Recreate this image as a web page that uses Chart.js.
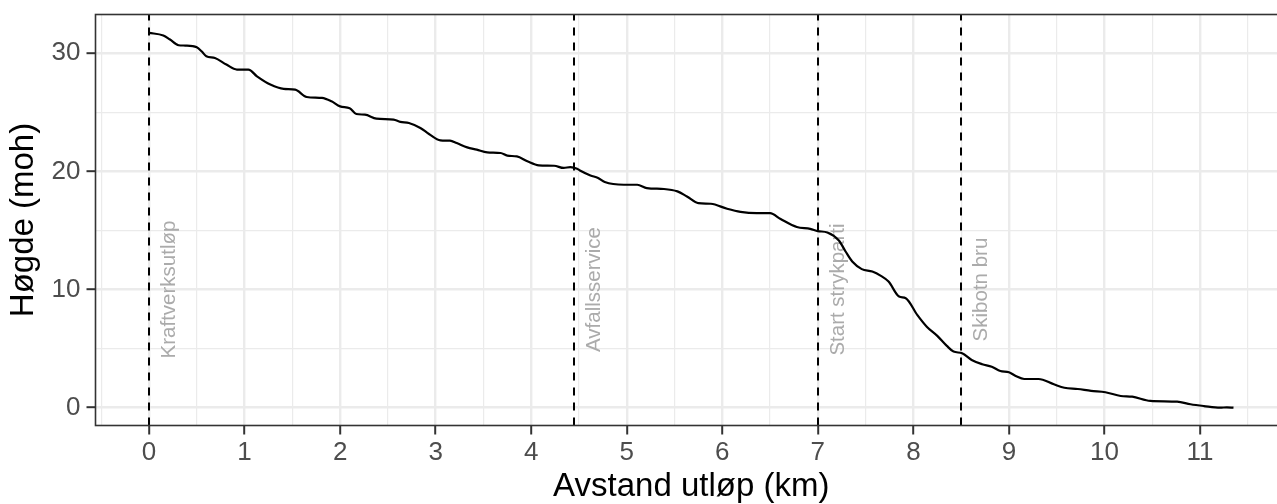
<!DOCTYPE html>
<html>
<head>
<meta charset="utf-8">
<script src="https://cdn.jsdelivr.net/npm/chart.js@4"></script>
<style>
  html, body { margin: 0; padding: 0; background: #fff; overflow: hidden; }
</style>
</head>
<body>
<canvas id="profile" width="1300" height="504"></canvas>
<script>
// River profile: distance from outlet (km) and height above sea (moh)
const distKm = [0, 0.15, 0.22, 0.31, 0.38, 0.5, 0.55, 0.6, 0.69, 0.81, 0.92, 1.04, 1.13, 1.27, 1.41, 1.53, 1.65, 1.81, 1.91, 2.0,
  2.1, 2.17, 2.26, 2.38, 2.56, 2.63, 2.72, 2.84, 2.93, 3.05, 3.15, 3.22, 3.33, 3.43, 3.54, 3.68, 3.75, 3.85, 3.96, 4.08,
  4.24, 4.34, 4.41, 4.48, 4.51, 4.62, 4.7, 4.77, 4.97, 5.11, 5.21, 5.39, 5.53, 5.63, 5.75, 5.88, 6.05, 6.19, 6.36, 6.5,
  6.61, 6.78, 6.92, 7.0, 7.1, 7.22, 7.29, 7.36, 7.46, 7.57, 7.66, 7.74, 7.85, 7.92, 8.04, 8.14, 8.25, 8.35, 8.42, 8.51,
  8.61, 8.72, 8.82, 8.91, 9.0, 9.07, 9.16, 9.31, 9.47, 9.58, 9.72, 9.86, 10.01, 10.17, 10.29, 10.48, 10.76, 10.9, 11.04, 11.21,
  11.28, 11.35];
const heightM = [31.73, 31.5, 31.16, 30.68, 30.65, 30.5, 30.17, 29.75, 29.6, 29.04, 28.62, 28.62, 28.05, 27.35, 26.98, 26.92, 26.3, 26.22, 25.93, 25.5,
  25.35, 24.86, 24.8, 24.47, 24.38, 24.19, 24.1, 23.68, 23.17, 22.63, 22.6, 22.4, 22.03, 21.84, 21.61, 21.56, 21.33, 21.27, 20.85, 20.51,
  20.48, 20.29, 20.37, 20.23, 20.08, 19.66, 19.44, 19.1, 18.87, 18.87, 18.59, 18.51, 18.31, 17.88, 17.32, 17.26, 16.84, 16.58, 16.47, 16.47,
  15.97, 15.29, 15.14, 14.95, 14.83, 14.15, 13.22, 12.37, 11.73, 11.53, 11.16, 10.68, 9.41, 9.27, 7.86, 6.86, 6.08, 5.23, 4.75, 4.61,
  4.04, 3.68, 3.47, 3.11, 3.0, 2.69, 2.43, 2.43, 1.98, 1.69, 1.58, 1.42, 1.31, 0.99, 0.93, 0.57, 0.51, 0.29, 0.14, 0.0,
  0.03, 0.0];

// Landmarks (dashed lines)
const markerKm = [0, 4.45, 7.0, 8.5];
const markerNames = ['Kraftverksutløp', 'Avfallsservice', 'Start strykparti', 'Skibotn bru'];
const markerLabelHeight = 10;

// Axis ticks
const xTicks = [0, 1, 2, 3, 4, 5, 6, 7, 8, 9, 10, 11];
const yTicks = [0, 10, 20, 30];

const FONT = "'Liberation Sans', Arial, sans-serif";
const GRID = '#EBEBEB';
const DARK = '#333333';

// major ticks plus minor breaks halfway between, kept inside the scale range
const withMinor = (major, min, max) => {
  const step = major[1] - major[0];
  const all = [major[0] - step / 2];
  major.forEach(v => { all.push(v); all.push(v + step / 2); });
  return all.filter(v => v >= min && v <= max);
};
const isMajor = (list, v) => list.includes(v);

const landmarks = {
  id: 'landmarks',
  beforeDatasetsDraw(chart) {
    const { ctx, chartArea, scales: { x, y } } = chart;
    ctx.save();
    ctx.beginPath();
    ctx.rect(chartArea.left, chartArea.top, chartArea.right - chartArea.left, chartArea.bottom - chartArea.top);
    ctx.clip();
    ctx.strokeStyle = '#000';
    ctx.lineWidth = 2;
    ctx.setLineDash([8, 7]);
    markerKm.forEach(km => {
      const px = Math.round(x.getPixelForValue(km));
      ctx.beginPath();
      ctx.moveTo(px, chartArea.bottom);
      ctx.lineTo(px, chartArea.top);
      ctx.stroke();
    });
    ctx.setLineDash([]);
    ctx.fillStyle = '#ABABAB';
    ctx.font = '20.5px ' + FONT;
    ctx.textAlign = 'center';
    ctx.textBaseline = 'middle';
    markerKm.forEach((km, i) => {
      ctx.save();
      ctx.translate(x.getPixelForValue(km + 0.215), y.getPixelForValue(markerLabelHeight));
      ctx.rotate(-Math.PI / 2);
      ctx.fillText(markerNames[i], 0, 0);
      ctx.restore();
    });
    ctx.restore();
  },
  afterDatasetsDraw(chart) {
    const { ctx, chartArea } = chart;
    ctx.save();
    ctx.strokeStyle = DARK;
    ctx.lineWidth = 1.6;
    ctx.strokeRect(chartArea.left, chartArea.top, chartArea.right - chartArea.left, chartArea.bottom - chartArea.top);
    ctx.restore();
  }
};

const ctx = document.getElementById('profile').getContext('2d');
new Chart(ctx, {
  type: 'line',
  data: {
    datasets: [{
      data: distKm.map((d, i) => ({ x: d, y: heightM[i] })),
      borderColor: '#000',
      borderWidth: 2.2,
      pointRadius: 0,
      cubicInterpolationMode: 'monotone',
      fill: false
    }]
  },
  options: {
    responsive: false,
    animation: false,
    devicePixelRatio: 1,
    layout: { padding: { top: 14.5, right: 13, left: 0, bottom: 0 } },
    plugins: { legend: { display: false }, tooltip: { enabled: false } },
    scales: {
      x: {
        type: 'linear',
        min: -0.56,
        max: 11.91,
        afterBuildTicks: (scale) => {
          scale.ticks = withMinor(xTicks, scale.min, scale.max).map(v => ({ value: v }));
        },
        afterFit: (scale) => {
          scale.height = 78.5;
          scale.paddingLeft = 0;
          scale.paddingRight = 0;
        },
        border: { display: false },
        grid: {
          color: GRID,
          lineWidth: (c) => isMajor(xTicks, c.tick.value) ? 2.4 : 1.2,
          tickColor: (c) => isMajor(xTicks, c.tick.value) ? DARK : 'rgba(0,0,0,0)',
          tickWidth: 2,
          tickLength: 9
        },
        ticks: {
          autoSkip: false,
          maxRotation: 0,
          padding: 3,
          color: '#4D4D4D',
          font: { family: FONT, size: 26 },
          callback: (v) => isMajor(xTicks, v) ? String(v) : ''
        },
        title: {
          display: true,
          text: 'Avstand utløp (km)',
          color: '#000',
          font: { family: FONT, size: 33, lineHeight: 1 },
          padding: { top: 0, bottom: 0.5 }
        }
      },
      y: {
        type: 'linear',
        min: -1.507,
        max: 33.28,
        afterBuildTicks: (scale) => {
          scale.ticks = withMinor(yTicks, scale.min, scale.max).map(v => ({ value: v }));
        },
        afterFit: (scale) => {
          scale.width = 95.5;
          scale.paddingTop = 0;
          scale.paddingBottom = 0;
        },
        border: { display: false },
        grid: {
          color: GRID,
          lineWidth: (c) => isMajor(yTicks, c.tick.value) ? 2.4 : 1.2,
          tickColor: (c) => isMajor(yTicks, c.tick.value) ? DARK : 'rgba(0,0,0,0)',
          tickWidth: 2,
          tickLength: 9
        },
        ticks: {
          autoSkip: false,
          padding: 6,
          color: '#4D4D4D',
          font: { family: FONT, size: 26 },
          callback: (v) => isMajor(yTicks, v) ? String(v) : ''
        },
        title: {
          display: true,
          text: 'Høgde (moh)',
          color: '#000',
          font: { family: FONT, size: 33, lineHeight: 1 },
          padding: { top: 7, bottom: 0 }
        }
      }
    }
  },
  plugins: [landmarks]
});
</script>
</body>
</html>
